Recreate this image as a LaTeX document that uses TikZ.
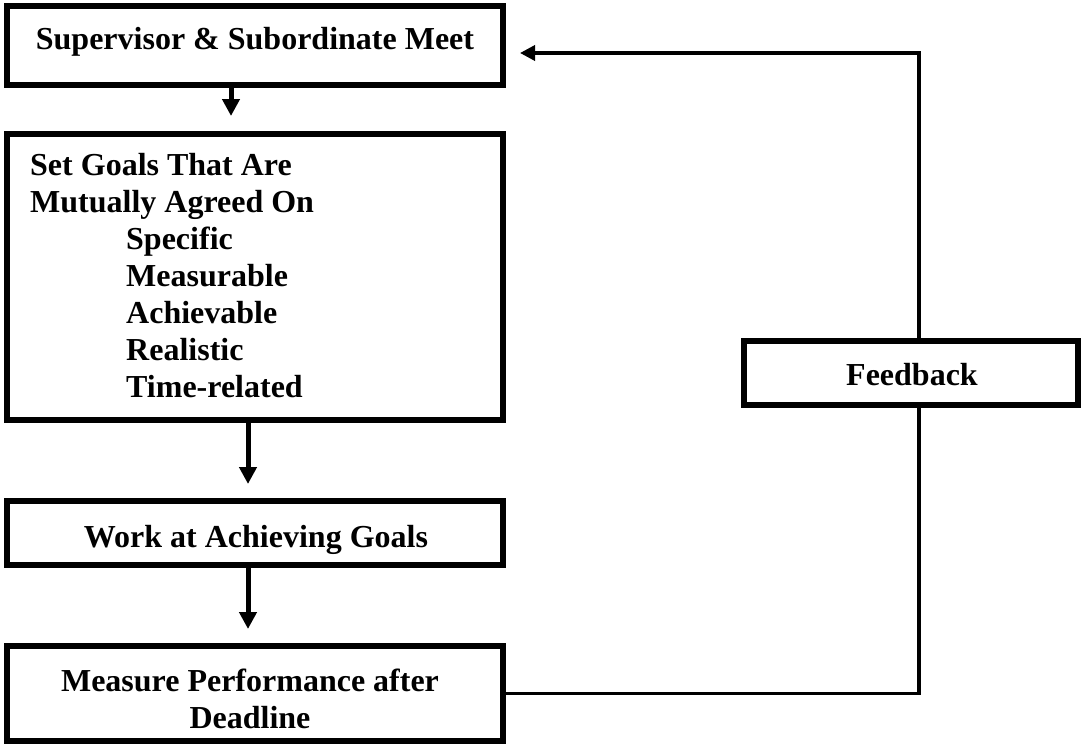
\documentclass[tikz,border=0pt]{standalone}
\usepackage{fontspec}
\setmainfont{Liberation Serif}
\usetikzlibrary{arrows.meta}
\begin{document}
\begin{tikzpicture}[x=1pt,y=1pt,
  boxnode/.style={draw=black,line width=6pt,rectangle,inner sep=0pt},
  lbl/.style={inner sep=0pt,font=\bfseries\fontsize{32}{37}\selectfont},
  downarrow/.style={line width=5pt,-{Triangle[width=17pt,length=17pt]}},
  fbline/.style={line width=3.5pt},
  fbarrow/.style={line width=3.5pt,-{Triangle[width=15pt,length=15pt]}}]
\useasboundingbox[fill=white] (0,0) rectangle (1081,-744);
% boxes
\node[boxnode,minimum width=496pt,minimum height=79pt] (b1) at (255,-45.5) {};
\node[boxnode,minimum width=496pt,minimum height=286.5pt] (b2) at (255,-276.75) {};
\node[boxnode,minimum width=496pt,minimum height=64pt] (b3) at (255,-533) {};
\node[boxnode,minimum width=496pt,minimum height=95pt] (b4) at (255,-693.5) {};
\node[boxnode,minimum width=334pt,minimum height=64pt] (fb) at (911,-373) {};
% texts
\node[lbl,anchor=base] (t1) at (255,-49) {Supervisor \& Subordinate Meet};
\node[lbl,anchor=base west,align=left] (t2) at (30,-397) {Set Goals That Are\\Mutually Agreed On\\\hspace*{96pt}Specific\\\hspace*{96pt}Measurable\\\hspace*{96pt}Achievable\\\hspace*{96pt}Realistic\\\hspace*{96pt}Time-related};
\node[lbl,anchor=base] (t3) at (256,-547) {Work at Achieving Goals};
\node[lbl,anchor=base,align=center] (t4) at (250,-728) {Measure Performance after\\Deadline};
\node[lbl,anchor=base] (tf) at (912,-385) {Feedback};
% coordinates
\coordinate (a1) at (231,-116);
\coordinate (a2) at (248,-484);
\coordinate (a3) at (248,-629);
\coordinate (c1) at (919,-693.5);
\coordinate (c2) at (919,-53);
\coordinate (tip) at (520,-53);
% connectors
\draw[downarrow] (a1 |- b1.south) -- (a1);
\draw[downarrow] (a2 |- b2.south) -- (a2);
\draw[downarrow] (a3 |- b3.south) -- (a3);
\draw[fbline] (b4.east) -- (c1) -- (c1 |- fb.south);
\draw[fbarrow] (c2 |- fb.north) -- (c2) -- (tip);
\end{tikzpicture}
\end{document}
